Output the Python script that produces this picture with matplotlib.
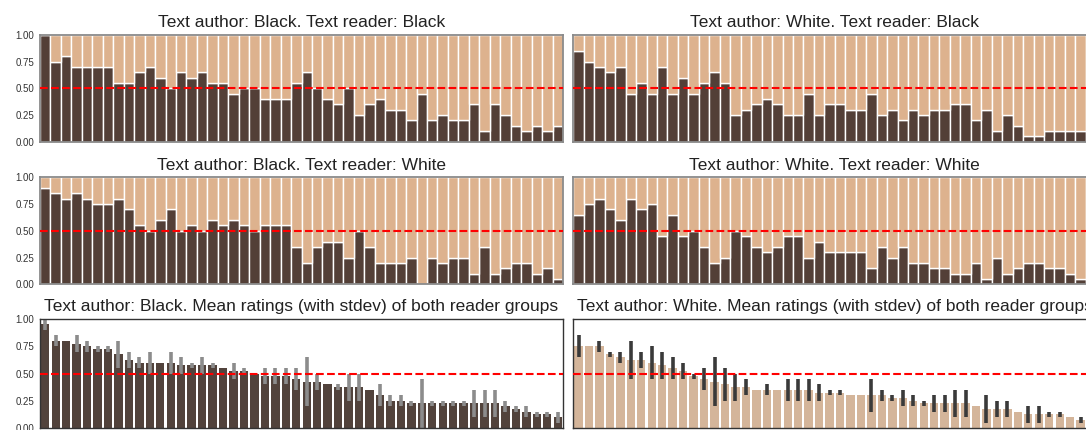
import matplotlib
matplotlib.use("Agg")
import matplotlib.pyplot as plt
import numpy as np

plt.rcParams['font.family'] = ['Liberation Sans', 'DejaVu Sans']

# share of "yes" ratings per text, ordered by mean of both reader groups
black_author_black_reader = [1.0, 0.75, 0.8, 0.7, 0.7, 0.7, 0.7, 0.55, 0.55, 0.65,
                             0.7, 0.6, 0.5, 0.65, 0.6, 0.65, 0.55, 0.55, 0.45, 0.5,
                             0.5, 0.4, 0.4, 0.4, 0.55, 0.65, 0.5, 0.4, 0.35, 0.5,
                             0.25, 0.35, 0.4, 0.3, 0.3, 0.2, 0.45, 0.2, 0.25, 0.2,
                             0.2, 0.35, 0.1, 0.35, 0.25, 0.15, 0.1, 0.15, 0.1, 0.15]
black_author_white_reader = [0.9, 0.85, 0.8, 0.85, 0.8, 0.75, 0.75, 0.8, 0.7, 0.55,
                             0.5, 0.6, 0.7, 0.5, 0.55, 0.5, 0.6, 0.55, 0.6, 0.55,
                             0.5, 0.55, 0.55, 0.55, 0.35, 0.2, 0.35, 0.4, 0.4, 0.25,
                             0.5, 0.35, 0.2, 0.2, 0.2, 0.25, 0.0, 0.25, 0.2, 0.25,
                             0.25, 0.1, 0.35, 0.1, 0.15, 0.2, 0.2, 0.1, 0.15, 0.05]
white_author_black_reader = [0.85, 0.75, 0.7, 0.65, 0.7, 0.45, 0.55, 0.45, 0.7, 0.45,
                             0.6, 0.45, 0.55, 0.65, 0.55, 0.25, 0.3, 0.35, 0.4, 0.35,
                             0.25, 0.25, 0.45, 0.25, 0.35, 0.35, 0.3, 0.3, 0.45, 0.25,
                             0.3, 0.2, 0.3, 0.25, 0.3, 0.3, 0.35, 0.35, 0.2, 0.3,
                             0.1, 0.25, 0.15, 0.05, 0.05, 0.1, 0.1, 0.1, 0.1, 0.1]
white_author_white_reader = [0.65, 0.75, 0.8, 0.7, 0.6, 0.8, 0.7, 0.75, 0.45, 0.65,
                             0.45, 0.5, 0.35, 0.2, 0.25, 0.5, 0.45, 0.35, 0.3, 0.35,
                             0.45, 0.45, 0.25, 0.4, 0.3, 0.3, 0.3, 0.3, 0.15, 0.35,
                             0.25, 0.35, 0.2, 0.2, 0.15, 0.15, 0.1, 0.1, 0.2, 0.05,
                             0.25, 0.1, 0.15, 0.2, 0.2, 0.15, 0.15, 0.1, 0.05, 0.05]

# bottom row: mean and stdev over both reader groups
black_mean = [0.95, 0.8, 0.8, 0.775, 0.75, 0.725, 0.725, 0.675, 0.625, 0.6,
              0.6, 0.6, 0.6, 0.575, 0.575, 0.575, 0.575, 0.55, 0.525, 0.525,
              0.5, 0.475, 0.475, 0.475, 0.45, 0.425, 0.425, 0.4, 0.375, 0.375,
              0.375, 0.35, 0.3, 0.25, 0.25, 0.225, 0.225, 0.225, 0.225, 0.225,
              0.225, 0.225, 0.225, 0.225, 0.2, 0.175, 0.15, 0.125, 0.125, 0.1]
black_sd = [0.05, 0.05, 0.0, 0.075, 0.05, 0.025, 0.025, 0.125, 0.075, 0.05,
            0.1, 0.0, 0.1, 0.075, 0.025, 0.075, 0.025, 0.0, 0.075, 0.025,
            0.0, 0.075, 0.075, 0.075, 0.1, 0.225, 0.075, 0.0, 0.025, 0.125,
            0.125, 0.0, 0.1, 0.05, 0.05, 0.025, 0.225, 0.025, 0.025, 0.025,
            0.025, 0.125, 0.125, 0.125, 0.05, 0.025, 0.05, 0.025, 0.025, 0.05]
white_mean = [0.75, 0.75, 0.75, 0.675, 0.65, 0.625, 0.625, 0.6, 0.575, 0.55,
              0.525, 0.475, 0.45, 0.425, 0.4, 0.375, 0.375, 0.35, 0.35, 0.35,
              0.35, 0.35, 0.35, 0.325, 0.325, 0.325, 0.3, 0.3, 0.3, 0.3,
              0.275, 0.275, 0.25, 0.225, 0.225, 0.225, 0.225, 0.225, 0.2, 0.175,
              0.175, 0.175, 0.15, 0.125, 0.125, 0.125, 0.125, 0.1, 0.075, 0.075]
white_sd = [0.1, 0.0, 0.05, 0.025, 0.05, 0.175, 0.075, 0.15, 0.125, 0.1,
            0.075, 0.025, 0.1, 0.225, 0.15, 0.125, 0.075, 0.0, 0.05, 0.0,
            0.1, 0.1, 0.1, 0.075, 0.025, 0.025, 0.0, 0.0, 0.15, 0.05,
            0.025, 0.075, 0.05, 0.025, 0.075, 0.075, 0.125, 0.125, 0.0, 0.125,
            0.075, 0.075, 0.0, 0.075, 0.075, 0.025, 0.025, 0.0, 0.025, 0.025]

dark = '#533f37'
tan = '#ddb28e'
W, H = 1086, 430

fig = plt.figure(figsize=(W / 100, H / 100), dpi=100)


def make_ax(left_px, top_px, height_px, width_px=523):
    return fig.add_axes([left_px / W, 1 - (top_px + height_px) / H, width_px / W, height_px / H])


def style(ax, show_labels, spine_color, spine_lw):
    ax.set_xlim(-0.5, 49.5)
    ax.set_ylim(0, 1)
    ax.set_xticks([])
    ax.set_yticks([0, 0.25, 0.5, 0.75, 1.0])
    if show_labels:
        ax.set_yticklabels(['0.00', '0.25', '0.50', '0.75', '1.00'])
    else:
        ax.set_yticklabels([])
    ax.tick_params(axis='y', length=0, pad=4, labelsize=7, labelcolor='#333333')
    for sp in ax.spines.values():
        sp.set_color(spine_color)
        sp.set_linewidth(spine_lw)
    ax.axhline(0.5, color='red', ls='--', lw=1.5, zorder=5)


def stacked(ax, vals, title, show_labels):
    x = np.arange(len(vals))
    v = np.array(vals)
    ax.bar(x, v, width=1.0, color=dark, edgecolor='white', linewidth=1)
    ax.bar(x, 1 - v, bottom=v, width=1.0, color=tan, edgecolor='white', linewidth=1)
    style(ax, show_labels, '#8a8a8a', 1.3)
    ax.set_title(title, fontsize=12.5, pad=5.5, color='#222222')


def mean_bars(ax, means, sds, color, ecolor, title, show_labels):
    x = np.arange(len(means))
    ax.bar(x, means, width=0.8, color=color, yerr=sds, ecolor=ecolor,
           error_kw=dict(elinewidth=2.6, capsize=0))
    style(ax, show_labels, '#333333', 1.0)
    ax.set_title(title, fontsize=12.5, pad=5.5, color='#222222')


stacked(make_ax(40, 34.8, 107), black_author_black_reader,
        'Text author: Black. Text reader: Black', True)
stacked(make_ax(573.3, 34.8, 107), white_author_black_reader,
        'Text author: White. Text reader: Black', False)
stacked(make_ax(40, 177.3, 107), black_author_white_reader,
        'Text author: Black. Text reader: White', True)
stacked(make_ax(573.3, 177.3, 107), white_author_white_reader,
        'Text author: White. Text reader: White', False)
mean_bars(make_ax(40, 319, 109), black_mean, black_sd, '#52433c', '#8c8c8c',
          'Text author: Black. Mean ratings (with stdev) of both reader groups', True)
mean_bars(make_ax(573.3, 319, 109), white_mean, white_sd, '#d4b59a', '#3a3a3a',
          'Text author: White. Mean ratings (with stdev) of both reader groups', False)

fig.savefig('out.png', dpi=100)
